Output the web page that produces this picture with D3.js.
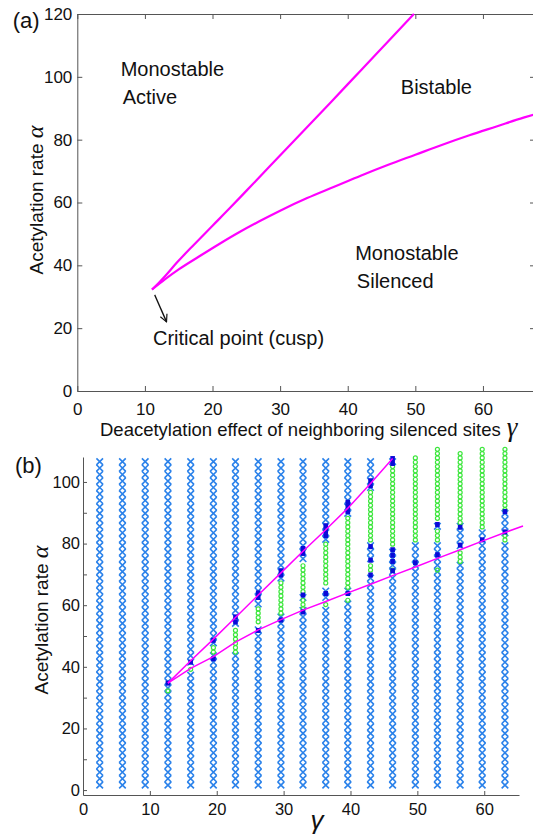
<!DOCTYPE html>
<html>
<head>
<meta charset="utf-8">
<script src="https://cdn.jsdelivr.net/npm/d3@7"></script>
<style>
  body { margin: 0; background: #fff; }
  text { font-family: "Liberation Sans", Arial, sans-serif; fill: #111; }
</style>
</head>
<body>
<script>
// ---------- panel (a): phase boundaries ----------
const upperG = [11.05, 12, 13, 14.7, 17, 20, 22.6, 25, 28.5, 32, 37.4, 42, 46, 49.8]
const upperA = [32.3, 34.3, 36.6, 40.8, 46.0, 52.6, 58.3, 63.7, 71.6, 79.5, 91.7, 102.2, 111.3, 120]
const lowerG = [11.05, 13, 15, 18, 21, 24, 27, 30, 34, 38, 42, 46, 50, 54, 58, 62, 66, 68]
const lowerA = [32.3, 35.6, 38.7, 42.8, 46.8, 50.6, 54.1, 57.4, 61.4, 65.0, 68.6, 72.0, 75.2, 78.4, 81.4, 84.2, 87.0, 88.3]
const xTicksA = [0, 10, 20, 30, 40, 50, 60]
const yTicksA = [0, 20, 40, 60, 80, 100, 120]

// ---------- panel (b): simulation grid ----------
const gammaB = [2.5, 5.9, 9.3, 12.7, 16.1, 19.5, 22.8, 26.2, 29.6, 32.9, 36.3, 39.6, 43.0, 46.3, 49.7, 53.0, 56.4, 59.7, 63.1]
// alpha values sampled as monostable (crosses)
const alphaX = [1.6, 3.7, 5.8, 7.9, 10, 12.1, 14.2, 16.3, 18.4, 20.5, 22.6, 24.7, 26.8, 28.9, 31, 33.1, 35.2, 37.3,
  39.4, 41.5, 43.6, 45.7, 47.8, 49.9, 52, 54.1, 56.2, 58.3, 60.4, 62.5, 64.6, 66.7, 68.8, 70.9, 73, 75.1, 77.2,
  79.3, 81.4, 83.5, 85.6, 87.7, 89.8, 91.9, 94, 96.1, 98.2, 100.3, 102.4, 104.5, 106.6]
// alpha values sampled as bistable (circles)
const alphaO = [1.4, 2.8, 4.2, 5.6, 7, 8.4, 9.8, 11.2, 12.6, 14, 15.4, 16.8, 18.2, 19.6, 21, 22.4, 23.8, 25.2, 26.6, 28,
  29.4, 30.8, 32.2, 33.6, 35, 36.4, 37.8, 39.2, 40.6, 42, 43.4, 44.8, 46.2, 47.6, 49, 50.4, 51.8, 53.2, 54.6, 56,
  57.4, 58.8, 60.2, 61.6, 63, 64.4, 65.8, 67.2, 68.6, 70, 71.4, 72.8, 74.2, 75.6, 77, 78.4, 79.8, 81.2, 82.6, 84,
  85.4, 86.8, 88.2, 89.6, 91, 92.4, 93.8, 95.2, 96.6, 98, 99.4, 100.8, 102.2, 103.6, 105, 106.4, 107.8, 109.2, 110.6]
// alpha ranges that are bistable (circles) in each column
const bistable = [
  [], [], [],
  [[32, 33]],
  [[38.5, 40]],
  [[44, 47]],
  [[44.5, 52.6]],
  [[54, 60]],
  [[56.8, 67.6]],
  [[58.4, 61.7], [64.4, 73.7]],
  [[59.5, 61], [66, 81]],
  [[60.5, 62.7], [65, 89]],
  [[70.5, 73], [81, 97.4]],
  [[71, 72], [78.5, 105]],
  [[81, 108]],
  [[71, 72.5], [81, 85], [87, 111]],
  [[74, 78], [86.5, 110]],
  [[85, 111]],
  [[81, 82.7], [91, 111]]
]
// boundary markers (filled squares) in each column
const squares = [
  [], [], [],
  [34.7],
  [41.5],
  [48.6, 42.6],
  [54.6, 56.2],
  [62.5, 64.0, 51.8],
  [69.8, 71.2, 55.2],
  [76.8, 78.4, 63.3, 57.8],
  [82.6, 84.2, 85.8, 63.8],
  [90.4, 92.0, 93.4, 63.8],
  [98.8, 100.4, 79.0, 74.6, 69.8],
  [106.0, 107.6, 74.2, 76.2, 78.0, 71.2],
  [73.8],
  [86.2, 76.4],
  [85.3, 79.5],
  [81.2],
  [90.4, 83.8]
]
const upperLineG = [12.7, 16.1, 19.5, 22.8, 26.2, 29.6, 32.9, 36.3, 39.6, 43.0, 46.3]
const upperLineA = [34.7, 42, 49, 56, 63.3, 70.5, 77.5, 84.5, 91.5, 99.5, 107.6]
const lowerLineG = [12.7, 16.1, 19.5, 22.8, 26.2, 29.6, 32.9, 36.3, 39.6, 43.0, 46.3, 49.7, 53.0, 56.4, 59.7, 63.1, 65.8]
const lowerLineA = [34.7, 39.5, 43.3, 48.0, 52.0, 55.3, 58.4, 61.2, 64.0, 66.8, 69.6, 72.4, 75.2, 78.0, 80.8, 83.6, 85.7]
const xTicksB = [0, 10, 20, 30, 40, 50, 60]
const yTicksB = [0, 10, 20, 30, 40, 50, 60, 70, 80, 90, 100]

const width = 533
const height = 838
const axisColor = '#555'
const serif = '"Liberation Serif", "Times New Roman", serif'

let svg = d3.select('body').append('svg')
  .attr('width', width)
  .attr('height', height)

svg.append('defs').append('marker')
  .attr('id', 'head')
  .attr('viewBox', '0 0 10 10')
  .attr('refX', 9).attr('refY', 5)
  .attr('markerWidth', 9).attr('markerHeight', 9)
  .attr('markerUnits', 'userSpaceOnUse')
  .attr('orient', 'auto')
  .append('path')
  .attr('d', 'M1,1L9,5L1,9')
  .attr('fill', 'none')
  .attr('stroke', '#111')
  .attr('stroke-width', 1.3)

function styleAxis (g, size) {
  g.select('.domain').attr('stroke', axisColor)
  g.selectAll('.tick line').attr('stroke', axisColor)
  g.selectAll('.tick text')
    .attr('font-family', '"Liberation Sans", Arial, sans-serif')
    .attr('font-size', size)
    .attr('fill', '#111')
}

// =========== panel (a) ===========
const xa = d3.scaleLinear().domain([0, 67.7]).range([77.3, 535])
const ya = d3.scaleLinear().domain([0, 120]).range([391, 14])
const pa = svg.append('g')

pa.append('g')
  .attr('transform', `translate(0,${ya(0)})`)
  .call(d3.axisBottom(xa).tickValues(xTicksA).tickSize(-5).tickSizeOuter(0).tickPadding(12))
  .call(g => styleAxis(g, 17))
pa.append('g')
  .attr('transform', `translate(0,${ya(120)})`)
  .call(d3.axisTop(xa).tickValues(xTicksA).tickSize(-5).tickSizeOuter(0).tickFormat(''))
  .call(g => styleAxis(g, 17))
pa.append('g')
  .attr('transform', `translate(${xa(0)},0)`)
  .call(d3.axisLeft(ya).tickValues(yTicksA).tickSize(-5).tickSizeOuter(0).tickPadding(5))
  .call(g => styleAxis(g, 17))
pa.append('g')
  .attr('transform', `translate(${xa(67.7)},0)`)
  .call(d3.axisRight(ya).tickValues(yTicksA).tickSize(-5).tickSizeOuter(0).tickFormat(''))
  .call(g => styleAxis(g, 17))

let lineA = d3.line().curve(d3.curveMonotoneX).x(d => xa(d[0])).y(d => ya(d[1]))
pa.append('path')
  .attr('d', lineA(d3.zip(upperG, upperA)))
  .attr('fill', 'none').attr('stroke', '#ff00ff').attr('stroke-width', 2.2)
pa.append('path')
  .attr('d', lineA(d3.zip(lowerG, lowerA)))
  .attr('fill', 'none').attr('stroke', '#ff00ff').attr('stroke-width', 2.2)

// annotations, in data units
const notes = [
  ['Monostable', 6.42, 102.4],
  ['Active', 6.71, 93.7],
  ['Bistable', 47.85, 96.7],
  ['Monostable', 41.1, 44.0],
  ['Silenced', 41.35, 35.0],
  ['Critical point (cusp)', 11.19, 16.9]
]
pa.selectAll('text.note')
  .data(notes)
  .enter()
  .append('text')
  .attr('class', 'note')
  .attr('x', d => xa(d[1]))
  .attr('y', d => ya(d[2]) + 7)
  .attr('font-size', 20)
  .text(d => d[0])

pa.append('line')
  .attr('x1', xa(11.45)).attr('y1', ya(30.6))
  .attr('x2', xa(13.2)).attr('y2', ya(22.0))
  .attr('stroke', '#111').attr('stroke-width', 1.3)
  .attr('marker-end', 'url(#head)')

svg.append('text').attr('x', 12.7).attr('y', 28).attr('font-size', 22).text('(a)')

let xlabA = svg.append('text').attr('x', 100).attr('y', 436).attr('font-size', 18.5)
xlabA.append('tspan').text('Deacetylation effect of neighboring silenced sites')
xlabA.append('tspan').attr('dx', 6)
  .attr('font-family', serif)
  .attr('font-style', 'italic').attr('font-size', 27).text('γ')

let ylabA = svg.append('text')
  .attr('transform', 'translate(42.5,200) rotate(-90)')
  .attr('text-anchor', 'middle')
  .attr('font-size', 19)
ylabA.append('tspan').text('Acetylation rate ')
ylabA.append('tspan')
  .attr('font-family', serif)
  .attr('font-style', 'italic').attr('font-size', 24).text('α')

// =========== panel (b) ===========
const xb = d3.scaleLinear().domain([0, 65.2]).range([83, 519])
const yb = d3.scaleLinear().domain([-1.6, 108.1]).range([795, 457])
const pb = svg.append('g')

pb.append('g')
  .attr('transform', `translate(0,${yb(-1.6)})`)
  .call(d3.axisBottom(xb).tickValues(xTicksB).tickSize(-4).tickSizeOuter(0).tickPadding(8))
  .call(g => styleAxis(g, 16.5))
pb.append('g')
  .attr('transform', `translate(${xb(0)},0)`)
  .call(d3.axisLeft(yb).tickValues(yTicksB).tickSize(-4).tickSizeOuter(0).tickPadding(3)
    .tickFormat(d => d % 20 === 0 ? d : ''))
  .call(g => styleAxis(g, 16.5))

function isBistable (i, a) {
  return bistable[i].some(r => a >= r[0] && a <= r[1])
}

let crosses = []
let rings = []
gammaB.forEach((g, i) => {
  alphaX.forEach(a => { if (!isBistable(i, a)) crosses.push({ g: g, a: a }) })
  alphaO.forEach(a => { if (isBistable(i, a)) rings.push({ g: g, a: a }) })
})

pb.selectAll('path.mono')
  .data(crosses)
  .enter()
  .append('path')
  .attr('class', 'mono')
  .attr('transform', d => `translate(${xb(d.g)},${yb(d.a)})`)
  .attr('d', 'M-3.3,-3.3L3.3,3.3M-3.3,3.3L3.3,-3.3')
  .attr('fill', 'none')
  .attr('stroke', '#2b82ea')
  .attr('stroke-width', 1.6)

pb.selectAll('circle.bi')
  .data(rings)
  .enter()
  .append('circle')
  .attr('class', 'bi')
  .attr('cx', d => xb(d.g))
  .attr('cy', d => yb(d.a))
  .attr('r', 2)
  .attr('fill', 'none')
  .attr('stroke', '#3de63d')
  .attr('stroke-width', 1.2)

let sq = []
squares.forEach((list, i) => list.forEach(a => sq.push({ g: gammaB[i], a: a })))
pb.selectAll('rect.edge')
  .data(sq)
  .enter()
  .append('rect')
  .attr('class', 'edge')
  .attr('x', d => xb(d.g) - 2.3)
  .attr('y', d => yb(d.a) - 2.5)
  .attr('width', 4.6)
  .attr('height', 5)
  .attr('fill', '#0a0ad8')

let lineB = d3.line().x(d => xb(d[0])).y(d => yb(d[1]))
pb.append('path')
  .attr('d', lineB(d3.zip(upperLineG, upperLineA)))
  .attr('fill', 'none').attr('stroke', '#ff00ff').attr('stroke-width', 1.5)
pb.append('path')
  .attr('d', lineB(d3.zip(lowerLineG, lowerLineA)))
  .attr('fill', 'none').attr('stroke', '#ff00ff').attr('stroke-width', 1.5)

svg.append('text').attr('x', 15).attr('y', 473).attr('font-size', 22).text('(b)')

svg.append('text')
  .attr('x', 317).attr('y', 829)
  .attr('text-anchor', 'middle')
  .attr('font-family', serif)
  .attr('font-style', 'italic').attr('font-size', 26)
  .text('γ')

let ylabB = svg.append('text')
  .attr('transform', 'translate(48,620) rotate(-90)')
  .attr('text-anchor', 'middle')
  .attr('font-size', 19)
ylabB.append('tspan').text('Acetylation rate ')
ylabB.append('tspan')
  .attr('font-family', serif)
  .attr('font-style', 'italic').attr('font-size', 24).text('α')
</script>
</body>
</html>
